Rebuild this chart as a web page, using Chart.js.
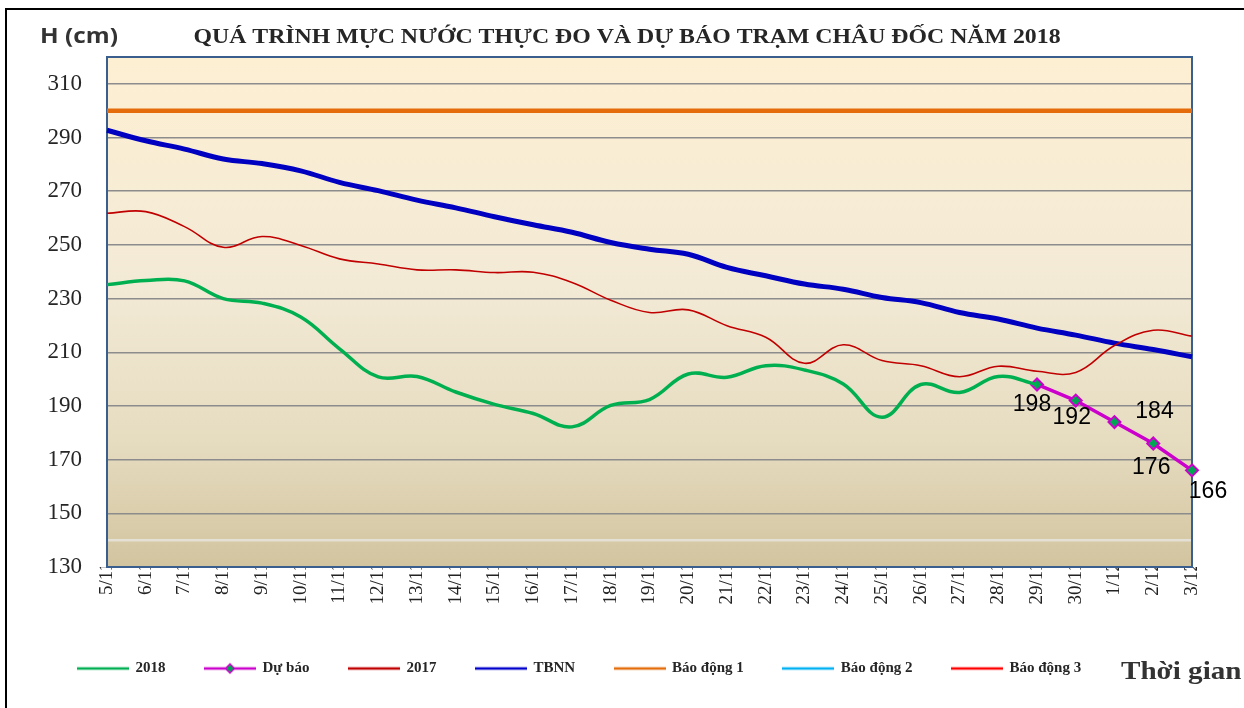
<!DOCTYPE html>
<html lang="vi">
<head>
<meta charset="utf-8">
<title>Mực nước trạm Châu Đốc 2018</title>
<script src="https://cdn.jsdelivr.net/npm/chart.js@4.4.1/dist/chart.umd.min.js"></script>
<style>
  html, body { margin: 0; padding: 0; background: #fff; }
  #wrap { position: relative; width: 1244px; height: 708px; overflow: hidden; }
  #khung { position: absolute; left: 5px; top: 8px; right: -4px; bottom: -4px; border-top: 2px solid #000; border-left: 2px solid #000; pointer-events: none; }
</style>
</head>
<body>
<div id="wrap">
  <canvas id="bieudo" width="1244" height="708"></canvas>
  <div id="khung"></div>
</div>
<script>
const ngay = ["5/11", "6/11", "7/11", "8/11", "9/11", "10/11", "11/11", "12/11", "13/11", "14/11",
  "15/11", "16/11", "17/11", "18/11", "19/11", "20/11", "21/11", "22/11", "23/11", "24/11",
  "25/11", "26/11", "27/11", "28/11", "29/11", "30/11", "1/12", "2/12", "3/12"];

const thucDo2018 = [235.2, 236.7, 236.6, 230, 228.3, 223.1, 211.3, 200.8, 201, 195.2,
  190.6, 187.2, 182.2, 190.2, 192.4, 201.9, 200.7, 205, 203.4, 198.2,
  185.8, 198, 195, 201, 198, null, null, null, null];

const duBao = [null, null, null, null, null, null, null, null, null, null,
  null, null, null, null, null, null, null, null, null, null,
  null, null, null, null, 198, 192, 184, 176, 166];

const nam2017 = [261.8, 262.4, 256.8, 249.1, 253.1, 249.8, 244.8, 242.9, 240.7, 240.7,
  239.7, 239.8, 236, 229.4, 224.8, 225.8, 219.9, 215.6, 205.9, 212.8,
  206.9, 205, 200.9, 204.8, 202.9, 202.5, 212.5, 218.2, 216];

const tbnn = [292.7, 288.8, 285.7, 282, 280.3, 277.6, 273.3, 270.2, 266.7, 263.8,
  260.5, 257.5, 254.7, 250.9, 248.4, 246.5, 241.6, 238.5, 235.4, 233.5,
  230.4, 228.5, 224.8, 222.4, 219, 216.4, 213.4, 211, 208.3];

const baoDong1 = [300, 300, 300, 300, 300, 300, 300, 300, 300, 300,
  300, 300, 300, 300, 300, 300, 300, 300, 300, 300,
  300, 300, 300, 300, 300, 300, 300, 300, 300];
const baoDong2 = [350, 350, 350, 350, 350, 350, 350, 350, 350, 350,
  350, 350, 350, 350, 350, 350, 350, 350, 350, 350,
  350, 350, 350, 350, 350, 350, 350, 350, 350];
const baoDong3 = [400, 400, 400, 400, 400, 400, 400, 400, 400, 400,
  400, 400, 400, 400, 400, 400, 400, 400, 400, 400,
  400, 400, 400, 400, 400, 400, 400, 400, 400];

// moc truc y (140 chi co vach sang, khong co nhan)
const mocY = [130, 140, 150, 170, 190, 210, 230, 250, 270, 290, 310];
const yMin = 130;
const yMax = 320;

// vi tri nhan so du bao so voi diem (dx, dy)
const lechNhan = [[-5, 20], [-4, 17], [40, -10], [-2, 24], [16, 21]];

const tieuDe = "QUÁ TRÌNH MỰC NƯỚC THỰC ĐO VÀ DỰ BÁO TRẠM CHÂU ĐỐC NĂM 2018";

function bieuTuong(mau, day, coHinhThoi) {
  const c = document.createElement("canvas");
  c.width = 52;
  c.height = 14;
  const g = c.getContext("2d");
  g.strokeStyle = mau;
  g.lineWidth = day;
  g.beginPath();
  g.moveTo(0, 7);
  g.lineTo(52, 7);
  g.stroke();
  if (coHinhThoi) {
    g.beginPath();
    g.moveTo(26, 2.5);
    g.lineTo(30.5, 7);
    g.lineTo(26, 11.5);
    g.lineTo(21.5, 7);
    g.closePath();
    g.fillStyle = "#00A651";
    g.fill();
    g.lineWidth = 1.5;
    g.stroke();
  }
  return c;
}

// chu keo gian theo chieu ngang
function vietGian(ctx, text, x, y, font, sx, align) {
  ctx.save();
  ctx.font = font;
  ctx.textAlign = align || "left";
  ctx.translate(x, y);
  ctx.scale(sx, 1);
  ctx.fillText(text, 0, 0);
  ctx.restore();
}

const nenVung = {
  id: "nenVung",
  beforeDraw(chart) {
    const { ctx, chartArea: a } = chart;
    const gr = ctx.createLinearGradient(0, a.top, 0, a.bottom);
    gr.addColorStop(0, "#FDEFD2");
    gr.addColorStop(0.45, "#F3EAD6");
    gr.addColorStop(0.75, "#E6DCC0");
    gr.addColorStop(1, "#D2C49F");
    ctx.save();
    ctx.fillStyle = gr;
    ctx.fillRect(a.left, a.top, a.right - a.left, a.bottom - a.top);
    ctx.restore();
  },
  beforeDatasetsDraw(chart) {
    const { ctx, chartArea: a } = chart;
    ctx.save();
    ctx.strokeStyle = "#3A5F8E";
    ctx.lineWidth = 2;
    ctx.strokeRect(a.left, a.top, a.right - a.left, a.bottom - a.top);
    ctx.restore();
  }
};

const nhanDuBao = {
  id: "nhanDuBao",
  afterDatasetsDraw(chart) {
    const meta = chart.getDatasetMeta(1);
    const ctx = chart.ctx;
    ctx.save();
    ctx.font = "23px 'Liberation Sans', Arial, sans-serif";
    ctx.fillStyle = "#000";
    ctx.textAlign = "center";
    ctx.textBaseline = "middle";
    let k = 0;
    meta.data.forEach((pt, i) => {
      if (duBao[i] == null) return;
      const [dx, dy] = lechNhan[k++];
      ctx.fillText(String(duBao[i]), pt.x + dx, pt.y + dy);
    });
    ctx.restore();
  }
};

const chuPhu = {
  id: "chuPhu",
  afterDraw(chart) {
    const ctx = chart.ctx;
    ctx.save();
    ctx.textBaseline = "alphabetic";
    ctx.fillStyle = "#262626";
    vietGian(ctx, tieuDe, 627, 43, "bold 20px 'Liberation Serif', 'Times New Roman', serif", 1.19, "center");
    ctx.fillStyle = "#333";
    vietGian(ctx, "H (cm)", 40, 43, "bold 21px 'Open Sans', 'Noto Sans', sans-serif", 1.16);
    vietGian(ctx, "Thời gian", 1121, 679, "bold 26px 'Liberation Serif', 'Times New Roman', serif", 1.12);
    ctx.restore();
  }
};

new Chart(document.getElementById("bieudo"), {
  type: "line",
  data: {
    labels: ngay,
    datasets: [
      { label: "2018", data: thucDo2018, borderColor: "#00B050", borderWidth: 3.5, pointRadius: 0, tension: 0.4, bieuTuong: bieuTuong("#00B050", 2.5) },
      { label: "Dự báo", data: duBao, borderColor: "#CC00CC", borderWidth: 3.5, pointStyle: "rectRot", pointRadius: 6,
        pointBackgroundColor: "#00A651", pointBorderColor: "#CC00CC", pointBorderWidth: 2, tension: 0, clip: false,
        bieuTuong: bieuTuong("#CC00CC", 2.5, true) },
      { label: "2017", data: nam2017, borderColor: "#C00000", borderWidth: 1.6, pointRadius: 0, tension: 0.4, bieuTuong: bieuTuong("#C00000", 2.5) },
      { label: "TBNN", data: tbnn, borderColor: "#0000C0", borderWidth: 5, pointRadius: 0, tension: 0.4, bieuTuong: bieuTuong("#0000CC", 2.5) },
      { label: "Báo động 1", data: baoDong1, borderColor: "#E46C0A", borderWidth: 4.5, pointRadius: 0, bieuTuong: bieuTuong("#E46C0A", 2.5) },
      { label: "Báo động 2", data: baoDong2, borderColor: "#00B0F0", borderWidth: 2, pointRadius: 0, bieuTuong: bieuTuong("#00B0F0", 2.5) },
      { label: "Báo động 3", data: baoDong3, borderColor: "#FF0000", borderWidth: 2, pointRadius: 0, bieuTuong: bieuTuong("#FF0000", 2.5) }
    ]
  },
  options: {
    responsive: false,
    animation: false,
    events: [],
    layout: { padding: { left: 38.5, right: 52, top: 57, bottom: 22 } },
    plugins: {
      title: { display: false },
      legend: {
        position: "bottom",
        align: "start",
        labels: {
          usePointStyle: true,
          pointStyleWidth: 50,
          padding: 39.5,
          color: "#262626",
          font: { family: "'Liberation Serif', 'Times New Roman', serif", size: 15, weight: "bold" },
          generateLabels(chart) {
            const items = Chart.defaults.plugins.legend.labels.generateLabels(chart);
            items.forEach(it => { it.pointStyle = chart.data.datasets[it.datasetIndex].bieuTuong; });
            return items;
          }
        }
      },
      tooltip: { enabled: false }
    },
    scales: {
      x: {
        grid: { display: false, drawTicks: false },
        border: { color: "#3A5F8E", width: 2 },
        ticks: {
          autoSkip: false, maxRotation: 90, minRotation: 90, padding: -5,
          color: "#222",
          font: { family: "'Liberation Serif', 'Times New Roman', serif", size: 19 }
        },
        afterFit(s) { s.height = 54.5; }
      },
      y: {
        min: yMin,
        max: yMax,
        afterBuildTicks(s) {
          s.ticks = mocY.map(v => ({ value: v }));
        },
        grid: {
          drawTicks: false,
          color: c => (c.tick && c.tick.value === 140 ? "#E4E0D6" : "#8C8C8C"),
          lineWidth: c => (c.tick && c.tick.value === 140 ? 2.5 : 1.5)
        },
        border: { color: "#3A5F8E", width: 2 },
        ticks: {
          padding: 25,
          color: "#262626",
          font: { family: "'Liberation Serif', 'Times New Roman', serif", size: 23 },
          callback(v) {
            return v === 140 ? "" : v;
          }
        },
        afterFit(s) { s.width = 68.5; }
      }
    }
  },
  plugins: [nenVung, nhanDuBao, chuPhu]
});
</script>
</body>
</html>
